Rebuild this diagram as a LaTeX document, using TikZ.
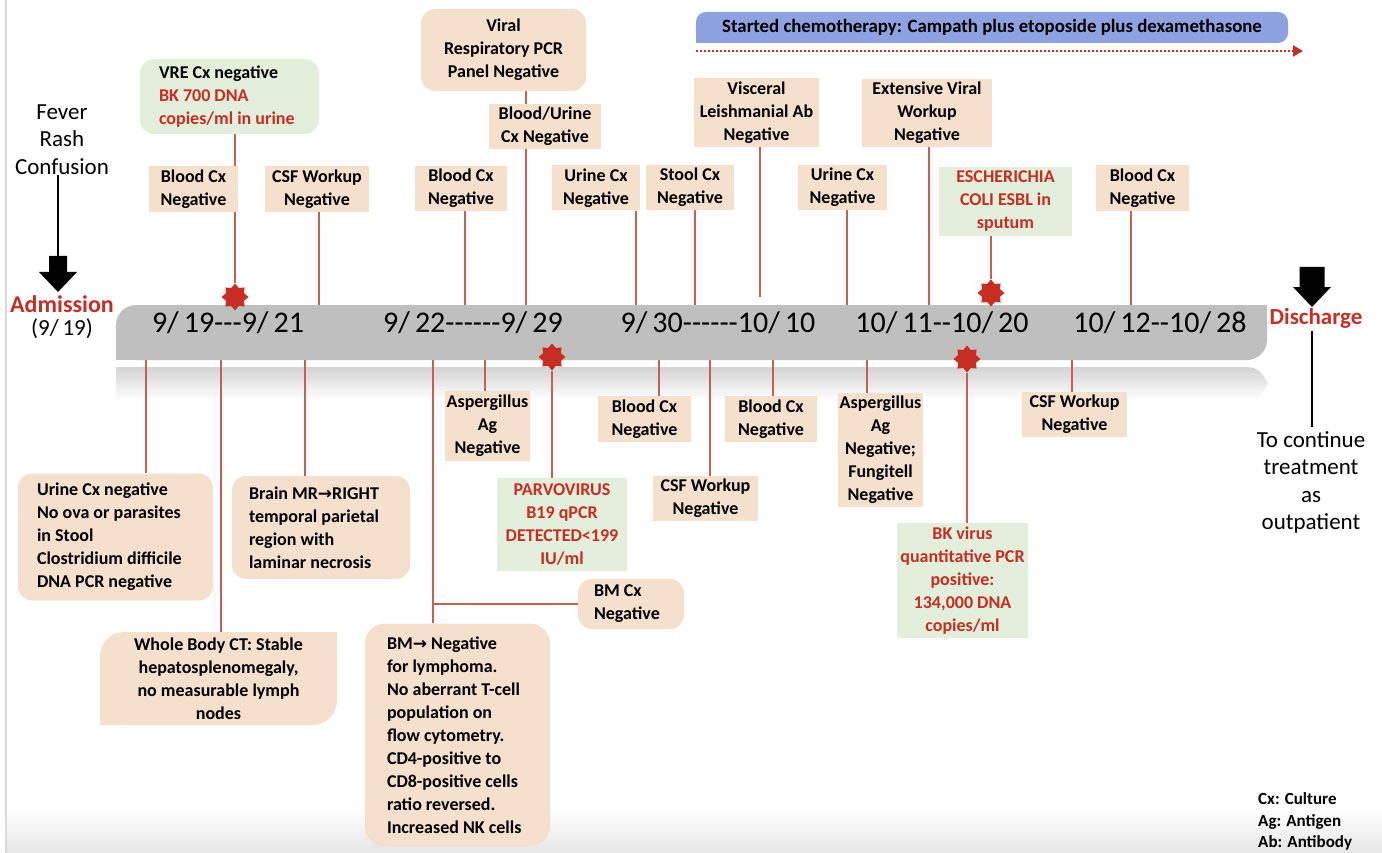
\documentclass[tikz,border=0pt]{standalone}
\usepackage{fontspec}
\setmainfont{Carlito}
\newfontfamily\datef{Carlito}[Ligatures=TeXOff]
\newfontfamily\dejavu{DejaVu Sans}
\usetikzlibrary{shapes.geometric,arrows.meta,backgrounds}
\definecolor{peachc}{RGB}{245,224,206}
\definecolor{greenc}{RGB}{227,239,218}
\definecolor{redc}{RGB}{196,46,36}
\definecolor{connc}{RGB}{196,96,84}
\definecolor{starc}{RGB}{200,45,35}
\definecolor{barc}{RGB}{191,191,191}
\definecolor{chemoc}{RGB}{142,161,224}
\newcommand\bxf{\bfseries\fontsize{18}{23}\selectfont}
\newcommand\rt[1]{\textcolor{redc}{#1}}
\newcommand\rarr{{\dejavu\bfseries\fontsize{17}{20}\selectfont →}}
\newcommand\vlink[3]{\draw[conn] (#1 -| #2,0) -- (#3 -| #2,0);}
\begin{document}
\begin{tikzpicture}[x=1pt,y=-1pt,
  box/.style={font=\bxf, inner sep=0pt, align=center},
  pch/.style={box, fill=peachc},
  grn/.style={box, fill=greenc},
  rnd/.style={rounded corners=14pt},
  sz/.style 2 args={minimum width=#1pt, minimum height=#2pt},
  ltxt/.style={box, align=left, anchor=west},
  conn/.style={draw=connc, line width=1.4pt},
  redstar/.style={star, star points=8, star point ratio=1.38, fill=starc, minimum size=27pt, inner sep=0pt},
  date/.style={font=\datef\fontsize{30}{34}\selectfont, inner sep=0pt},
  big/.style={font=\fontsize{23}{27.5}\selectfont, align=center, inner sep=0pt},
]
\useasboundingbox (0,0) rectangle (1382,853);

% faint frame and shadow
\begin{scope}[on background layer]
  \shade[top color=white, bottom color=black!10] (6,808) rectangle (1382,853);
  \draw[black!14, line width=1.5pt] (6,0) -- (6,853);
  \shade[top color=black!17, bottom color=white] (116,367) -- (1240,367) [rounded corners=20pt] -- (1267,367) -- (1267,400) [sharp corners] -- (116,400) -- cycle;
\end{scope}

% timeline bar
\node[fill=barc, rounded corners=20pt, sz={1151}{55}, inner sep=0pt] (bar) at (691.5,332.5) {};
\fill[barc] (bar.north east) rectangle +(-25pt,-25pt);
\fill[barc] (bar.south west) rectangle +(25pt,25pt);

\node[date] (d1) at (228,323) {9/\,19---9/\,21};
\node[date] (d2) at (473,323) {9/\,22------9/\,29};
\node[date] (d3) at (718,323) {9/\,30------10/\,10};
\node[date] (d4) at (942,323) {10/\,11--10/\,20};
\node[date] (d5) at (1160,323) {10/\,12--10/\,28};

% admission
\node[big] (fever) at (62,139.5) {Fever\\Rash\\Confusion};
\coordinate (admA) at (58,256);
\draw[line width=1.3pt] (fever.south -| admA) -- (admA);
\fill (admA) ++(-9pt,0pt) -- ++(18pt,0pt) -- ++(0pt,-16pt) -- ++(10pt,0pt) -- ++(-19pt,-20pt) -- ++(-19pt,20pt) -- ++(10pt,0pt) -- cycle;
\node[font=\bfseries\fontsize{24}{28}\selectfont, text=redc, inner sep=0pt] (adm) at (62,304) {Admission};
\node[font=\datef\fontsize{23}{27}\selectfont, inner sep=0pt] (admd) at (62,329) {(9/\,19)};

% discharge
\coordinate (disA) at (1312,267);
\fill (disA) ++(-12.5pt,0pt) -- ++(25pt,0pt) -- ++(0pt,-20pt) -- ++(6.5pt,0pt) -- ++(-19pt,-20pt) -- ++(-19pt,20pt) -- ++(6.5pt,0pt) -- cycle;
\node[font=\bfseries\fontsize{23}{27}\selectfont, text=redc, inner sep=0pt] (dis) at (1316,318) {Discharge};
\node[big] (outp) at (1311,482.5) {To continue\\treatment\\as\\outpatient};
\draw[line width=1.3pt] ([yshift=-3pt]dis.south -| disA) -- ([yshift=4pt]outp.north -| disA);

% chemotherapy
\node[fill=chemoc, rounded corners=10pt, sz={592}{31}, inner sep=0pt, font=\bfseries\fontsize{18.8}{22}\selectfont] (chemo) at (992,27.5) {Started chemotherapy: Campath plus etoposide plus dexamethasone};
\fill[chemoc] (chemo.south west) rectangle +(12pt,12pt);
\coordinate (chs) at (696,51);
\coordinate (che) at (1303,51);
\draw[redc, line width=2pt, dash pattern=on 2pt off 2pt, -{Triangle[length=10pt,width=11pt]}] (chs) -- (che);

% top boxes
\node[grn, rnd, sz={179}{75}] (vre) at (229.5,96.5) {};
\node[ltxt] (vret) at ([xshift=19pt]vre.west) {VRE Cx negative\\\rt{BK 700 DNA}\\\rt{copies/ml in urine}};
\node[pch, sz={89}{46}] (bc1) at (193.5,189) {Blood Cx\\Negative};
\node[pch, sz={104}{46}] (csf1) at (317,189) {CSF Workup\\Negative};
\node[pch, rnd, sz={165}{82}] (viral) at (503.5,50) {Viral\\Respiratory PCR\\Panel Negative};
\node[pch, sz={112}{45}] (bu) at (545,126.5) {Blood/Urine\\Cx Negative};
\node[pch, sz={92}{45}] (bc2) at (461,188.5) {Blood Cx\\Negative};
\node[pch, sz={88}{45}] (uc1) at (596,188) {Urine Cx\\Negative};
\node[pch, sz={88}{45}] (stool) at (690,187.5) {Stool Cx\\Negative};
\node[pch, sz={125}{69}] (visc) at (756.5,112.5) {Visceral\\Leishmanial Ab\\Negative};
\node[pch, sz={89}{45}] (uc2) at (842.5,187.5) {Urine Cx\\Negative};
\node[pch, sz={130}{68}] (ext) at (927,113) {Extensive Viral\\Workup\\Negative};
\node[grn, sz={133}{69}, text=redc] (esch) at (1005.5,201.5) {ESCHERICHIA\\COLI ESBL in\\sputum};
\node[pch, sz={93}{46}] (bc3) at (1142.5,188) {Blood Cx\\Negative};

% bottom boxes
\node[pch, rnd, sz={195}{127}] (ucneg) at (115.5,537) {};
\node[ltxt] (ucnegt) at ([xshift=19pt]ucneg.west) {Urine Cx negative\\No ova or parasites\\in Stool\\Clostridium difficile\\DNA PCR negative};
\node[pch, rounded corners=24pt, sz={237}{93}] (wbct) at (218.5,678.5) {Whole Body CT: Stable\\hepatosplenomegaly,\\no measurable lymph\\nodes};
\fill[peachc] (wbct.north east) rectangle +(-26pt,-26pt);
\fill[peachc] (wbct.south west) rectangle +(26pt,26pt);
\node[pch, rnd, sz={178}{103}] (brain) at (321,527.5) {};
\node[ltxt] (braint) at ([xshift=17pt]brain.west) {Brain MR\rarr RIGHT\\temporal parietal\\region with\\laminar necrosis};
\node[pch, rnd, sz={106}{50}] (bmcx) at (631,604) {};
\node[ltxt] (bmcxt) at ([xshift=16pt]bmcx.west) {BM Cx\\Negative};
\node[pch, rounded corners=20pt, sz={185}{223}] (bm) at (457.5,735) {};
\node[ltxt] (bmt) at ([xshift=22pt]bm.west) {BM\rarr\ Negative\\for lymphoma.\\No aberrant T-cell\\population on\\flow cytometry.\\CD4-positive to\\CD8-positive cells\\ratio reversed.\\Increased NK cells};
\node[pch, sz={85}{70}] (asp1) at (487.5,426) {Aspergillus\\Ag\\Negative};
\node[grn, sz={130}{93}, text=redc] (parvo) at (562,524.5) {PARVOVIRUS\\B19 qPCR\\DETECTED<199\\IU/ml};
\node[pch, sz={93}{46}] (bbc1) at (644.5,419) {Blood Cx\\Negative};
\node[pch, sz={105}{45}] (csf2) at (705.5,498.5) {CSF Workup\\Negative};
\node[pch, sz={92}{46}] (bbc2) at (771,419) {Blood Cx\\Negative};
\node[pch, sz={85}{114}] (asp2) at (880.5,450) {Aspergillus\\Ag\\Negative;\\Fungitell\\Negative};
\node[grn, sz={131}{115}, text=redc] (bk) at (962.5,580.5) {BK virus\\quantitative PCR\\positive:\\134,000 DNA\\copies/ml};
\node[pch, sz={105}{45}] (csf3) at (1074.5,414.5) {CSF Workup\\Negative};

% stars
\node[redstar] (st1) at (235,297) {};
\node[redstar] (st2) at (552,357) {};
\node[redstar] (st3) at (967,359) {};
\node[redstar] (st4) at (991,293) {};

% legend
\node[font=\bfseries\fontsize{17}{21.5}\selectfont, align=left, anchor=west, inner sep=0pt] (legend) at (1258,821.5) {Cx: Culture\\Ag: Antigen\\Ab: Antibody};

% connectors
\begin{scope}[on background layer]
  \draw[conn] (vre.south -| st1) -- (st1);
  \vlink{csf1.south}{319}{bar.north}
  \vlink{bc2.south}{465}{bar.north}
  \vlink{viral.south}{526}{bu.north}
  \vlink{bu.south}{526}{bar.north}
  \vlink{uc1.south}{636}{bar.north}
  \vlink{stool.south}{695}{bar.north}
  \draw[conn, shorten >=8pt] (visc.south -| 760,0) -- (bar.north -| 760,0);
  \vlink{uc2.south}{847}{bar.north}
  \vlink{ext.south}{929}{bar.north}
  \draw[conn] (esch.south -| st4) -- (st4);
  \vlink{bc3.south}{1131}{bar.north}
  \vlink{bar.south}{146}{ucneg.north}
  \vlink{bar.south}{221}{wbct.north}
  \vlink{bar.south}{305}{brain.north}
  \vlink{bar.south}{433}{bm.north}
  \draw[conn] (bmcx.west -| 433,0) -- (bmcx.west);
  \vlink{bar.south}{485}{asp1.north}
  \draw[conn] (st2) -- (parvo.north -| st2);
  \vlink{bar.south}{659}{bbc1.north}
  \vlink{bar.south}{710}{csf2.north}
  \vlink{bar.south}{773}{bbc2.north}
  \vlink{bar.south}{867}{asp2.north}
  \draw[conn] (st3) -- (bk.north -| st3);
  \vlink{bar.south}{1072}{csf3.north}
\end{scope}
\end{tikzpicture}
\end{document}
